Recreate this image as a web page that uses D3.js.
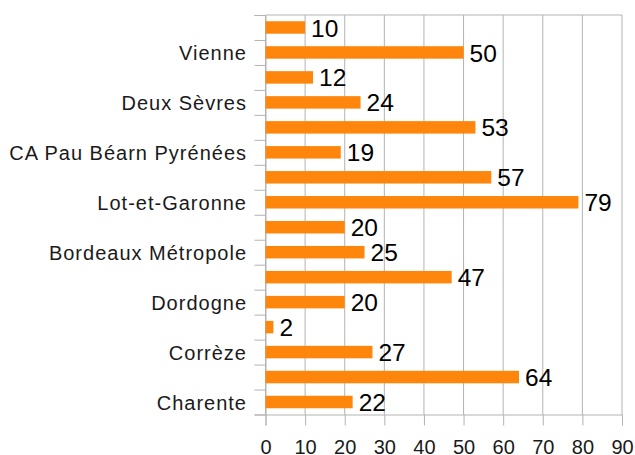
<!DOCTYPE html>
<html>
<head>
<meta charset="utf-8">
<script src="https://cdn.jsdelivr.net/npm/d3@7"></script>
<style>
  body { margin: 0; background: #fff; }
  svg text { font-family: "Liberation Sans", Arial, sans-serif; }
</style>
</head>
<body>
<svg></svg>
<script>
// categories from bottom to top (only every other one is labelled)
const categories = ["Charente", "Charente-Maritime", "Corrèze", "Creuse", "Dordogne", "Gironde",
  "Bordeaux Métropole", "Landes", "Lot-et-Garonne", "Pyrénées-Atlantiques", "CA Pau Béarn Pyrénées",
  "CA Pays Basque", "Deux Sèvres", "CA du Niortais", "Vienne", "Haute-Vienne"];
const values = [22, 64, 27, 2, 20, 47, 25, 20, 79, 57, 19, 53, 24, 12, 50, 10];
const xTicks = [0, 10, 20, 30, 40, 50, 60, 70, 80, 90];

const width = 635;
const height = 455;
const plotLeft = 265.5, plotRight = 622, plotTop = 15, plotBottom = 414.5;

const svg = d3.select("svg")
    .attr("width", width)
    .attr("height", height);

const xScale = d3.scaleLinear()
    .domain([0, 90])
    .range([plotLeft, plotRight]);

const yScale = d3.scaleBand()
    .domain(categories)
    .range([plotBottom, plotTop])
    .paddingInner(0.5)
    .paddingOuter(0.25);

// band boundaries for the little y ticks
const yEdge = d3.scaleLinear()
    .domain([0, categories.length])
    .range([plotBottom, plotTop]);

const grey = "#b3b3b3";

// vertical gridlines
svg.append("g")
    .selectAll("line")
    .data(xTicks)
    .join("line")
    .attr("x1", d => xScale(d))
    .attr("x2", d => xScale(d))
    .attr("y1", plotTop)
    .attr("y2", plotBottom)
    .attr("stroke", grey)
    .attr("stroke-width", 1);

// top frame line
svg.append("line")
    .attr("x1", plotLeft).attr("x2", plotRight)
    .attr("y1", plotTop).attr("y2", plotTop)
    .attr("stroke", grey);

// x axis
const xAxis = d3.axisBottom(xScale)
    .tickValues(xTicks)
    .tickSize(11)
    .tickPadding(14);
svg.append("g")
    .attr("transform", "translate(0," + plotBottom + ")")
    .call(xAxis)
    .call(g => g.select(".domain").attr("stroke", grey))
    .call(g => g.selectAll(".tick line").attr("stroke", grey))
    .call(g => g.selectAll("text").attr("font-size", 20).attr("fill", "#1a1a1a")
        .attr("font-family", "Liberation Sans, Arial, sans-serif"));

// y tick marks at band edges
const yTickAxis = d3.axisLeft(yEdge)
    .tickValues(d3.range(categories.length + 1))
    .tickSize(11)
    .tickFormat("");
svg.append("g")
    .attr("transform", "translate(" + plotLeft + ",0)")
    .call(yTickAxis)
    .call(g => g.select(".domain").attr("stroke", grey))
    .call(g => g.selectAll(".tick line").attr("stroke", grey));

// y labels (every other category)
const yAxis = d3.axisLeft(yScale)
    .tickSize(0)
    .tickPadding(18.5)
    .tickFormat((d, i) => i % 2 === 0 ? d : "");
svg.append("g")
    .attr("transform", "translate(" + plotLeft + ",0)")
    .call(yAxis)
    .call(g => g.select(".domain").remove())
    .call(g => g.selectAll("text").attr("font-size", 20).attr("fill", "#1a1a1a")
        .attr("dy", "0.4em")
        .attr("letter-spacing", 1)
        .attr("font-family", "Liberation Sans, Arial, sans-serif"));

// bars
svg.append("g")
    .selectAll("rect")
    .data(values)
    .join("rect")
    .attr("x", xScale(0))
    .attr("y", (d, i) => yScale(categories[i]))
    .attr("width", d => xScale(d) - xScale(0))
    .attr("height", yScale.bandwidth())
    .attr("fill", "#ff860d");

// value labels
svg.append("g")
    .selectAll("text")
    .data(values)
    .join("text")
    .attr("x", d => xScale(d) + 6)
    .attr("y", (d, i) => yScale(categories[i]) + yScale.bandwidth() / 2)
    .attr("dy", "0.37em")
    .attr("font-size", 24.5)
    .attr("fill", "#000")
    .text(d => d);
</script>
</body>
</html>
